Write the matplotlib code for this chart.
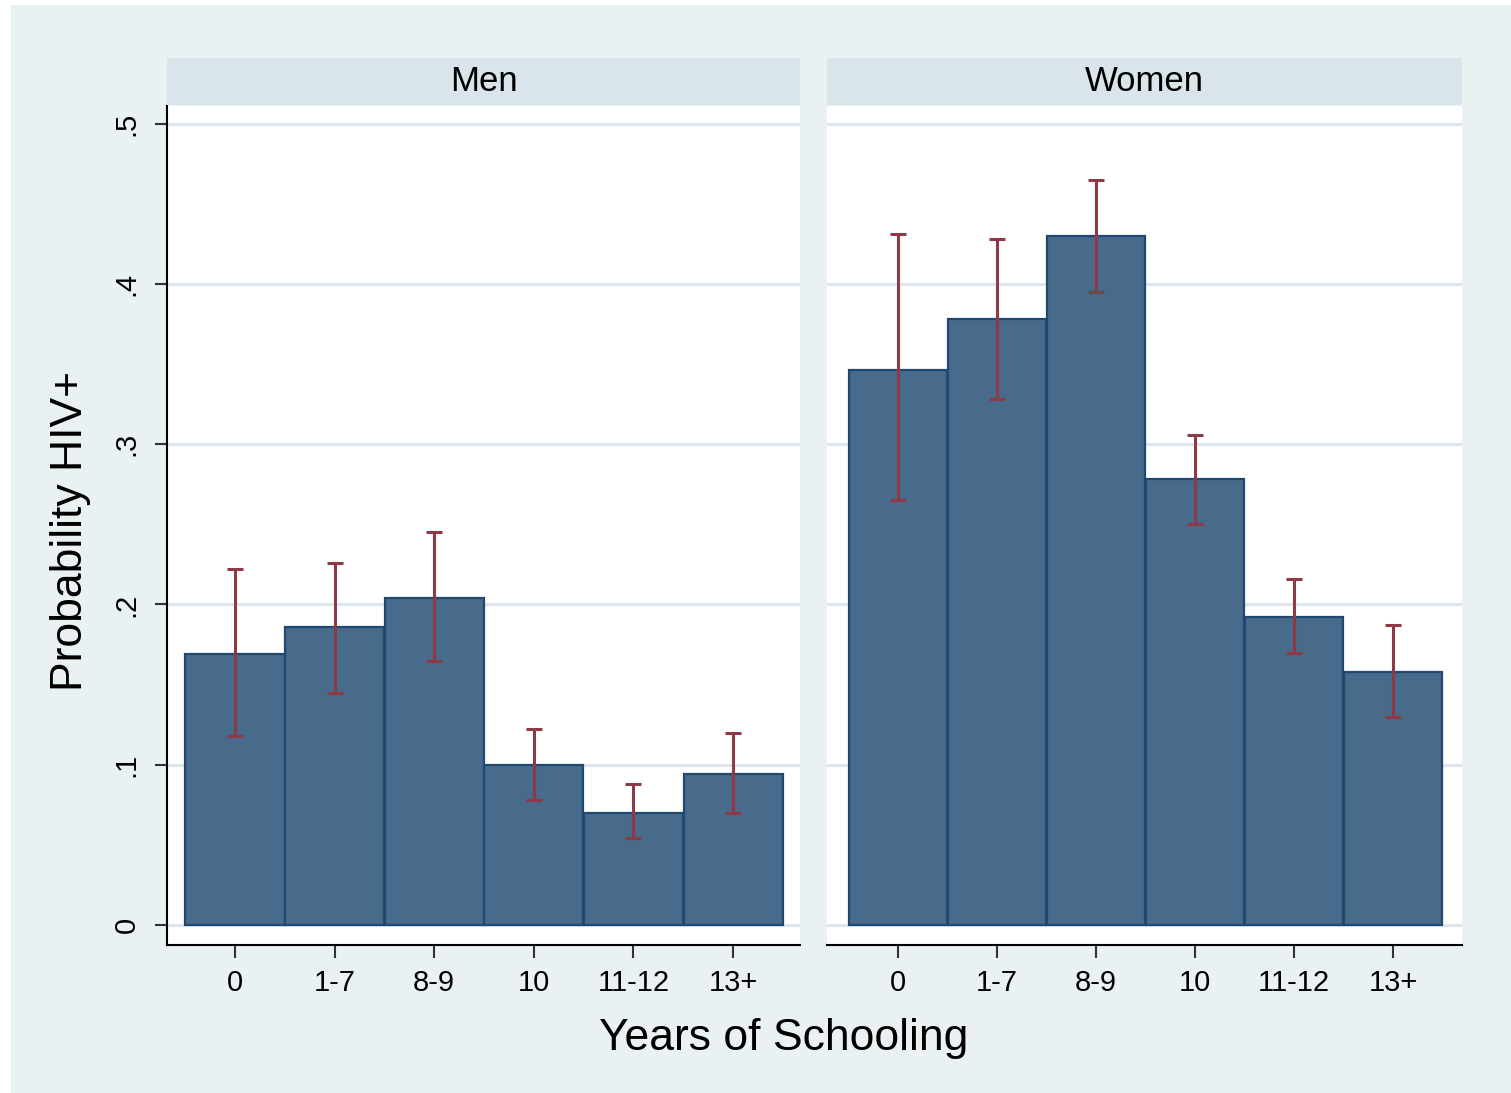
import numpy as np
import matplotlib
matplotlib.use("Agg")
import matplotlib.pyplot as plt
from matplotlib.patches import Rectangle

plt.rcParams['font.family'] = ['Liberation Sans', 'DejaVu Sans']

categories = ['0', '1-7', '8-9', '10', '11-12', '13+']
panels = ['Men', 'Women']

men_prob = [0.169, 0.186, 0.204, 0.100, 0.070, 0.094]
men_lo = [0.118, 0.145, 0.165, 0.078, 0.054, 0.070]
men_hi = [0.222, 0.226, 0.245, 0.122, 0.088, 0.120]

women_prob = [0.346, 0.378, 0.430, 0.278, 0.192, 0.158]
women_lo = [0.265, 0.328, 0.395, 0.250, 0.170, 0.130]
women_hi = [0.431, 0.428, 0.465, 0.306, 0.216, 0.187]

yticks = [0, 0.1, 0.2, 0.3, 0.4, 0.5]
ytick_labels = ['0', '.1', '.2', '.3', '.4', '.5']

bg = '#EAF1F3'
strip_col = '#D9E5EB'
grid_col = '#DCE6EC'
bar_col = '#486A8B'
edge_col = '#1F4970'
err_col = '#8E3A46'

W, H = 1511, 1093
fig = plt.figure(figsize=(W / 100, H / 100), dpi=100, facecolor='white')
fig.patches.append(Rectangle((11 / W, 0), 1 - 11 / W, 1 - 5 / H,
                             transform=fig.transFigure, facecolor=bg,
                             edgecolor='none', zorder=-10))

ax_bottom = 1 - 945 / H
ax_height = (945 - 106) / H
lefts = [167, 827]
widths = [633, 635]
xlims = [(-0.683, 5.672), (-0.717, 5.697)]
data = [(men_prob, men_lo, men_hi), (women_prob, women_lo, women_hi)]

x = np.arange(len(categories))
for i, name in enumerate(panels):
    ax = fig.add_axes([lefts[i] / W, ax_bottom, widths[i] / W, ax_height])
    ax.set_facecolor('white')
    prob, lo, hi = data[i]
    prob = np.array(prob)
    lo = np.array(lo)
    hi = np.array(hi)
    for yv in yticks:
        ax.axhline(yv, color=grid_col, lw=2.2, zorder=0)
    ax.bar(x, prob, width=0.995, color=bar_col, edgecolor=edge_col,
           linewidth=1.6, zorder=2)
    ax.errorbar(x, prob, yerr=[prob - lo, hi - prob], fmt='none',
                ecolor=err_col, elinewidth=2.2, capsize=5.8,
                capthick=2.2, zorder=3)
    ax.set_xlim(*xlims[i])
    ax.set_ylim(-0.0125, 0.511)
    ax.set_xticks(x)
    ax.set_xticklabels(categories, fontsize=21)
    ax.tick_params(axis='x', length=9, width=1.5, color='#333333', pad=8)
    for s in ['top', 'right']:
        ax.spines[s].set_visible(False)
    ax.spines['bottom'].set_linewidth(1.5)
    if i == 0:
        ax.set_yticks(yticks)
        ax.set_yticklabels(ytick_labels, fontsize=21, rotation=90,
                           va='center')
        ax.tick_params(axis='y', length=9, width=1.5, color='#333333', pad=10)
        ax.spines['left'].set_linewidth(1.5)
    else:
        ax.spines['left'].set_visible(False)
        ax.set_yticks([])

    # panel strip
    sax = fig.add_axes([lefts[i] / W, 1 - 105 / H, widths[i] / W, 47 / H])
    sax.set_facecolor(strip_col)
    sax.set_xticks([])
    sax.set_yticks([])
    for s in sax.spines.values():
        s.set_visible(False)
    sax.text(0.5, 0.5, name, ha='center', va='center', fontsize=25,
             transform=sax.transAxes)

fig.text(784 / W, 1 - 1050 / H, 'Years of Schooling', ha='center',
         va='baseline', fontsize=32)
fig.text(71 / W, 1 - 531 / H, 'Probability HIV+', ha='center',
         va='center', rotation=90, fontsize=32)

fig.savefig('out.png', dpi=100, facecolor='white')
